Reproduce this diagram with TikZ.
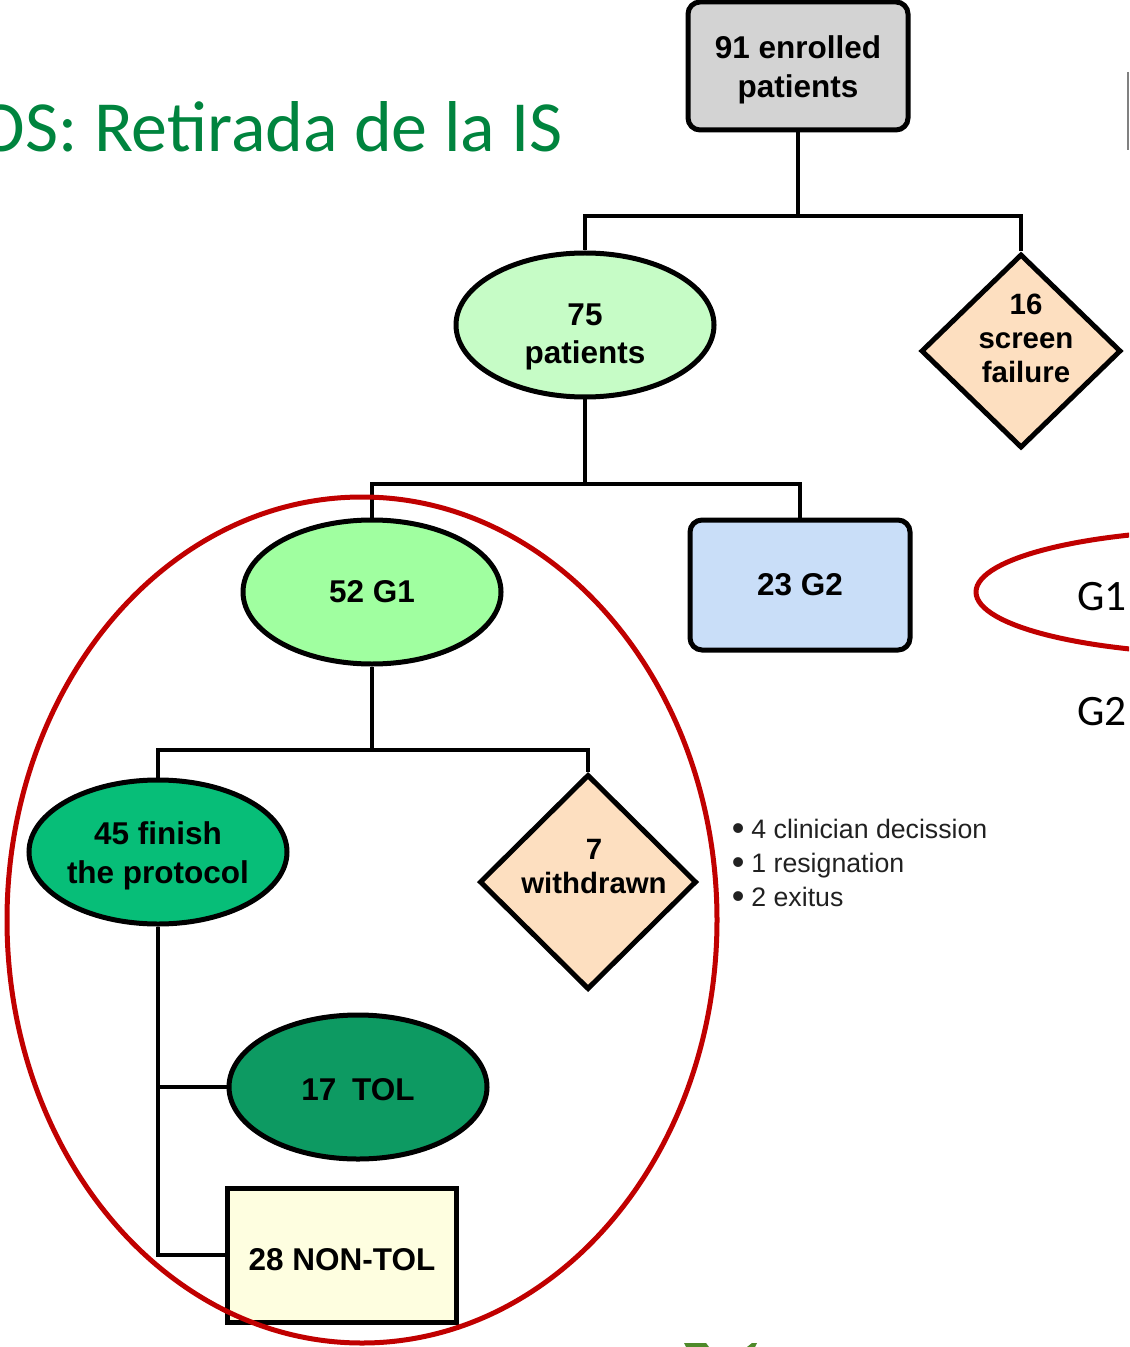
\documentclass[tikz,border=0pt]{standalone}
\usepackage{fontspec}
\setmainfont{Liberation Sans}
\newfontfamily\calibri{Carlito}
\usetikzlibrary{shapes.geometric}

\definecolor{boxgray}{HTML}{D3D3D3}
\definecolor{mint}{HTML}{C6FCC6}
\definecolor{lightgreen}{HTML}{A0FFA0}
\definecolor{lightblue}{HTML}{C9DEF8}
\definecolor{peach}{HTML}{FDDFC0}
\definecolor{midgreen}{HTML}{07BE78}
\definecolor{darkgreen}{HTML}{0D9A62}
\definecolor{cream}{HTML}{FEFEE0}
\definecolor{ringred}{HTML}{C00000}
\definecolor{titlegreen}{HTML}{00843E}
\definecolor{olive}{HTML}{4E8A2A}
\newcommand\flowfont{\bfseries\fontsize{15.75}{19.25}\selectfont}
\newcommand\rhombfont{\bfseries\fontsize{14.7}{17}\selectfont}
\newcommand\notedot{\llap{\raisebox{-1.2pt}{\scalebox{1.35}{\textbullet}}\hspace{3.5pt}}}

\begin{document}
\begin{tikzpicture}[x=0.5pt,y=-0.5pt,
  box/.style={draw, line width=2.5pt, rounded corners=6pt, minimum width=110pt, minimum height=64pt, font=\flowfont, align=center},
  oval/.style={ellipse, draw, line width=2.5pt, minimum width=129pt, minimum height=72pt, inner sep=0pt, font=\flowfont, align=center},
  rhomb/.style={diamond, draw, line width=2.5pt, inner sep=0pt},
  txt/.style={font=\rhombfont, align=center},
  link/.style={line width=2pt},
  ring/.style={draw=ringred, line width=2.5pt},
  note/.style={font=\fontsize{13.35}{17}\selectfont, text=black!87, anchor=base west, inner sep=0pt}]

\useasboundingbox (0,0) rectangle (1129,1347);
\clip (0,0) rectangle (1129,1347);

% definitions
\node[box, fill=boxgray] (n91) at (798,66) {};
\node[txt, font=\flowfont] (t91) at (798,70) {91 enrolled\\patients};
\node[oval, fill=mint] (e75) at (585,325) {};
\node[txt, font=\flowfont] (t75) at (585,337) {75\\patients};
\node[rhomb, fill=peach, minimum width=100pt, minimum height=97pt] (d16) at (1021,351) {};
\node[txt] (t16) at (1026,338) {16\\screen\\failure};
\node[oval, fill=lightgreen] (e52) at (372,592) {52 G1};
\node[box, fill=lightblue, minimum height=65pt] (b23) at (800,585) {23 G2};
\node[oval, fill=midgreen] (e45) at (158,852) {};
\node[txt, font=\flowfont] (t45) at (158,856) {45 finish\\the protocol};
\node[rhomb, fill=peach, minimum width=108.5pt, minimum height=107.5pt] (d7) at (588,882) {};
\node[txt] (t7) at (594,867) {7\\withdrawn};
\node[oval, fill=darkgreen] (e17) at (358,1087) {};
\node[txt, font=\flowfont] (t17) at (358,1090) {17\enspace TOL};
\node[box, fill=cream, rounded corners=0pt, minimum width=114.5pt, minimum height=67pt] (b28) at (342,1255) {};
\node[txt, font=\flowfont] (t28) at (342,1260) {28 NON-TOL};

% drawing
\draw[link] (n91.south) -- ++(0,84) -| (e75.north);
\draw[link] (n91.south) ++(0,84) -| (d16.north);
\draw[link] (e75.south) -- ++(0,84) -| (e52.north);
\draw[link] (e75.south) ++(0,84) -| (b23.north);
\draw[link] (e52.south) -- ++(0,83) -| (e45.north);
\draw[link] (e52.south) ++(0,83) -| (d7.north);
\draw[link] (e45.south) |- (e17.west);
\draw[link] (e45.south) |- (b28.west);

\draw[ring] (362,920) ellipse [x radius=355, y radius=423];
\draw[ring] (1230,592) ellipse [x radius=254, y radius=62];
\draw[gray, line width=1pt] (1128,72) -- (1128,150);
\fill[olive] (684,1343) -- (706,1343) -- (709,1347) -- (686,1347) -- cycle;
\fill[olive] (752,1343) -- (757,1343) -- (755,1347) -- (747,1347) -- cycle;

% labels
\node[anchor=base east, inner sep=0pt, text=titlegreen, font=\calibri\fontsize{36}{40}\selectfont] (title) at (563,152) {OS: Retirada de la IS};
\node[anchor=base west, inner sep=0pt, font=\calibri\fontsize{21.7}{24}\selectfont] (g1) at (1077,610) {G1};
\node[anchor=base west, inner sep=0pt, font=\calibri\fontsize{21.7}{24}\selectfont] (g2) at (1077,725) {G2};
\node[note] (l1) at (751,838) {\notedot 4 clinician decission};
\node[note] (l2) at (751,872) {\notedot 1 resignation};
\node[note] (l3) at (751,906) {\notedot 2 exitus};
\end{tikzpicture}
\end{document}
